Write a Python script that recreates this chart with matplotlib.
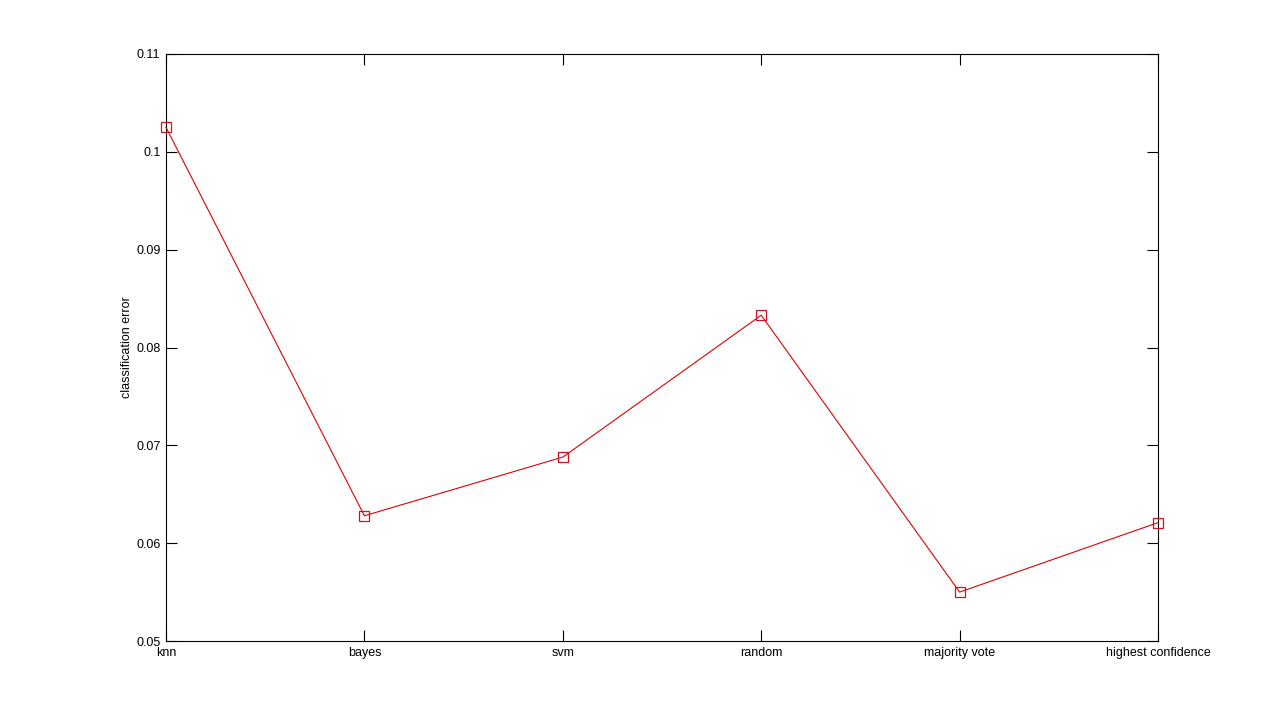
import matplotlib
matplotlib.use('Agg')
import matplotlib.pyplot as plt

methods = ['knn', 'bayes', 'svm', 'random', 'majority vote', 'highest confidence']
errors = [0.1025, 0.0628, 0.0688, 0.0833, 0.0550, 0.0621]

plt.rcParams['font.family'] = ['Liberation Sans', 'DejaVu Sans']
plt.rcParams['font.size'] = 9

fig = plt.figure(figsize=(12.8, 7.2), dpi=100)
ax = fig.add_axes([0.1297, 0.1097, 0.775, 0.8153])

x = list(range(1, len(methods) + 1))
ax.plot(x, errors, color='#e00000', linewidth=0.8, marker='s', markersize=7,
        markerfacecolor='none', markeredgecolor='#d0102a', markeredgewidth=0.9,
        clip_on=False, zorder=3)

ax.set_xlim(1, len(methods))
ax.set_ylim(0.05, 0.11)
ax.set_xticks(x, labels=methods)
ax.set_yticks([0.05, 0.06, 0.07, 0.08, 0.09, 0.1, 0.11],
              labels=['0.05', '0.06', '0.07', '0.08', '0.09', '0.1', '0.11'])
ax.tick_params(direction='in', length=8, width=0.8, top=True, right=True,
               labelsize=9, pad=4)
for s in ax.spines.values():
    s.set_linewidth(0.8)
ax.set_ylabel('classification error', fontsize=9, labelpad=2)

fig.savefig('out.png', dpi=100)
